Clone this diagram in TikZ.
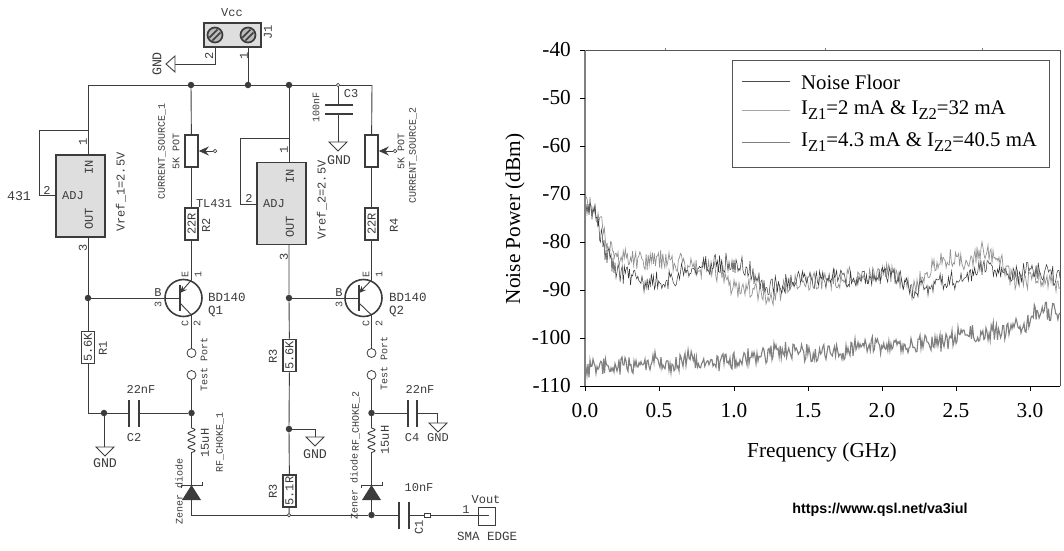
\documentclass[tikz,border=0pt]{standalone}
\usepackage{fontspec}
\usetikzlibrary{arrows.meta,decorations.pathmorphing}
\newfontfamily\schfont{Liberation Mono}
\newfontfamily\plotfont{Liberation Serif}
\newfontfamily\urlfont{Liberation Sans}
\definecolor{wirec}{HTML}{3C3C3C}
\definecolor{icfill}{HTML}{DEDEDE}
\definecolor{framec}{HTML}{555555}
\tikzset{
  wire/.style={draw=wirec, line width=0.9pt},
  platec/.style={draw=wirec, line width=2.6pt},
  dot/.style={circle, fill=wirec, inner sep=0pt, minimum size=6.5pt},
  tiny dot/.style={circle, draw=wirec, fill=white, line width=0.7pt, inner sep=0pt, minimum size=3.5pt},
  port/.style={circle, draw=wirec, fill=white, line width=0.8pt, inner sep=0pt, minimum size=9pt},
  ic/.style={rectangle, draw=wirec, fill=icfill, line width=1.6pt, minimum width=49pt, minimum height=82pt},
  res/.style={rectangle, draw=wirec, fill=white, line width=1.6pt, rotate=90, inner sep=0pt, minimum width=32pt, minimum height=13pt, text=wirec, font=\schfont\fontsize{12}{12}\selectfont},
  labs/.style={text=wirec, inner sep=0pt, font=\schfont\fontsize{10}{10}\selectfont},
  lab/.style={text=wirec, inner sep=0pt, font=\schfont\fontsize{12}{12}\selectfont},
  labl/.style={text=wirec, inner sep=0pt, font=\schfont\fontsize{13.3}{13.3}\selectfont},
  tick/.style={draw=black, line width=0.7pt},
  axnum/.style={inner sep=0pt, font=\plotfont\fontsize{21.3}{21.3}\selectfont},
  legtext/.style={inner sep=0pt, anchor=west, font=\plotfont\fontsize{20.8}{20.8}\selectfont},
  chokec/.style={wire, decorate, decoration={coil, aspect=0, segment length=7pt, amplitude=3.5pt}}
}
\newcommand{\gndsym}[2]{\draw[wire, fill=white] (#1-9,#2) -- (#1+9,#2) -- (#1,#2+9) -- cycle;}
\newcommand{\screw}[2]{
  \draw[draw=wirec, fill=gray!55, line width=1.7pt] (#1,#2) circle (7.5);
  \draw[draw=wirec, line width=1.5pt] (#1-5.5,#2+2.5) -- (#1+2.5,#2-5.5);
  \draw[draw=wirec, line width=1.5pt] (#1-2.5,#2+5.5) -- (#1+5.5,#2-2.5);
}
\newcommand{\IZ}[1]{I\raisebox{-0.28em}{\fontsize{16.5}{16.5}\selectfont Z#1}}
% style, noise amplitude, first x, first y, remaining anchors
\newcommand{\noisetrace}[5]{
  \foreach \xb/\yb [remember=\xb as \xa (initially #3), remember=\yb as \ya (initially #4)] in {#5}{
    \pgfmathtruncatemacro{\nsamp}{(\xb-\xa)/1.1+2}
    \draw[#1] (\xa,\ya) \foreach \k in {1,...,\nsamp}{
      -- ({\xa+\k/\nsamp*(\xb-\xa)},{\ya+\k/\nsamp*(\yb-\ya)+#2*(2*rnd-1)*(\k<\nsamp)}) };
  }
}
\begin{document}
\begin{tikzpicture}[x=1pt, y=-1pt]
  \useasboundingbox (0,0) rectangle (1064,550);

  % schematic: terminal block
  \draw[draw=wirec, fill=icfill, line width=1.6pt] (204,23) rectangle (261,47);
  \screw{215}{35}
  \screw{248}{35}
  \coordinate (jp2) at (215,47);
  \coordinate (jp1) at (248,47);
  \coordinate (jp2c) at (215,64);
  \coordinate (gndj) at (175,64);
  \draw[wire] (jp2) -- (jp2c) -- (gndj);
  \draw[wire, fill=white] (175,56) -- (175,72) -- (166,64) -- cycle;
  \node[lab] (vcclab) at (232,13) {Vcc};
  \node[lab, rotate=90] (j1lab) at (268,32) {J1};
  \node[lab, rotate=90] (jp2lab) at (209,56) {2};
  \node[lab, rotate=90] (jp1lab) at (244,56) {1};
  \node[labl, rotate=90] (gndjlab) at (157,64) {GND};

  % top rail
  \node[dot] (d1) at (191,85) {};
  \node[dot] (d2) at (248,85) {};
  \node[dot] (d3) at (289,85) {};
  \node[tiny dot] (d4) at (338,85) {};
  \coordinate (railw) at (88,85);
  \coordinate (raile) at (372,85);
  \draw[wire] (jp1) -- (d2);
  \draw[wire] (railw) -- (d1) -- (d2) -- (d3) -- (d4) -- (raile);

  % regulator 1
  \node[ic] (ic1) at (80.5,196) {};
  \coordinate (ic1in) at (88,155);
  \coordinate (ic1out) at (88,237);
  \coordinate (ic1adj) at (56,195);
  \coordinate (fb1) at (88,130);
  \coordinate (fb1a) at (39,130);
  \coordinate (fb1b) at (39,195);
  \draw[wire] (railw) -- (ic1in);
  \draw[wire] (fb1) -- (fb1a) -- (fb1b) -- (ic1adj);
  \node[lab, rotate=90] (ic1inl) at (89,167) {IN};
  \node[lab] (ic1adjl) at (73,196) {ADJ};
  \node[lab, rotate=90] (ic1outl) at (89,219) {OUT};
  \node[labl] (ic1pin) at (19,196) {431};
  \node[lab] (ic1p2) at (47,190) {2};
  \node[lab, rotate=90] (ic1p1) at (83,142) {1};
  \node[lab, rotate=90] (ic1p3) at (83,248) {3};
  \node[lab, rotate=90] (vref1) at (121,192) {Vref\_1=2.5V};

  % regulator 2
  \node[ic] (ic2) at (281.5,203.5) {};
  \coordinate (ic2in) at (289,163);
  \coordinate (ic2out) at (289,244);
  \coordinate (ic2adj) at (257,204);
  \coordinate (fb2) at (289,138);
  \coordinate (fb2a) at (240,138);
  \coordinate (fb2b) at (240,204);
  \draw[wire] (d3) -- (ic2in);
  \draw[wire] (fb2) -- (fb2a) -- (fb2b) -- (ic2adj);
  \node[lab, rotate=90] (ic2inl) at (290,176) {IN};
  \node[lab] (ic2adjl) at (274,204) {ADJ};
  \node[lab, rotate=90] (ic2outl) at (290,227) {OUT};
  \node[lab] (ic2p2) at (249,198) {2};
  \node[lab, rotate=90] (ic2p1) at (284,150) {1};
  \node[lab, rotate=90] (ic2p3) at (284,257) {3};
  \node[lab, rotate=90] (vref2) at (322,200) {Vref\_2=2.5V};

  % pots and series resistors
  \node[res] (pot1) at (191.5,151) {};
  \node[res] (pot2) at (371.5,151) {};
  \node[res] (r2) at (191.5,224) {22R};
  \node[res] (r4) at (371.5,224) {22R};
  \node[tiny dot] (wip1) at (215,151) {};
  \node[tiny dot] (wip2) at (395,151) {};
  \draw[wire] (d1) -- (pot1) -- (r2);
  \draw[wire] (raile) -- (pot2) -- (r4);
  \draw[wire, -{Stealth[length=10pt, width=9pt]}] (wip1) -- (pot1.south);
  \draw[wire, -{Stealth[length=10pt, width=9pt]}] (wip2) -- (pot2.south);
  \node[labs, rotate=90] (cs1) at (162,151) {CURRENT\_SOURCE\_1};
  \node[labs, rotate=90] (pv1) at (176,151) {5K POT};
  \node[labs, rotate=90] (cs2) at (413,155) {CURRENT\_SOURCE\_2};
  \node[labs, rotate=90] (pv2) at (401,151) {5K POT};
  \node[lab] (tl431) at (214,204) {TL431};
  \node[lab, rotate=90] (r2lab) at (206,225) {R2};
  \node[lab, rotate=90] (r4lab) at (394,225) {R4};

  % C3
  \coordinate (c3a) at (338,105);
  \coordinate (c3b) at (338,114);
  \coordinate (c3g) at (338,142);
  \draw[wire] (d4) -- (c3a);
  \draw[wire] (c3b) -- (c3g);
  \draw[platec] (325,105) -- (353,105);
  \draw[platec] (325,114) -- (353,114);
  \gndsym{338}{142}
  \node[lab] (c3lab) at (351,94) {C3};
  \node[labs, rotate=90] (c3v) at (316,107) {100nF};
  \node[labl] (c3gnd) at (339,160) {GND};

  % Q1
  \draw[draw=wirec, line width=1.6pt] (183.5,298) circle (18.5);
  \draw[platec] (180,285) -- (180,311);
  \node[dot] (d5) at (88,298) {};
  \coordinate (q1b) at (180,298);
  \coordinate (q1e) at (191.5,280);
  \coordinate (q1ea) at (180,293);
  \coordinate (q1ca) at (180,303);
  \coordinate (q1c) at (191.5,315);
  \draw[wire] (ic1out) -- (d5) -- (q1b);
  \draw[wire] (r2) -- (q1e);
  \draw[wire, -{Stealth[length=7pt, width=6pt]}] (q1e) -- (q1ea);
  \draw[wire] (q1ca) -- (q1c);
  \node[lab] (q1bl) at (158,293) {B};
  \node[labs, rotate=90] (q1b3) at (158,304) {3};
  \node[labs, rotate=90] (q1el) at (185,274) {E};
  \node[labs, rotate=90] (q1e1) at (198,274) {1};
  \node[labs, rotate=90] (q1cl) at (185,323) {C};
  \node[labs, rotate=90] (q1c2) at (197,323) {2};
  \node[lab, anchor=west, font=\schfont\fontsize{12.5}{12.5}\selectfont] (q1type) at (208,297) {BD140};
  \node[lab, anchor=west, font=\schfont\fontsize{12.5}{12.5}\selectfont] (q1name) at (208,311) {Q1};

  % Q2
  \draw[draw=wirec, line width=1.6pt] (363.5,298) circle (18.5);
  \draw[platec] (359,285) -- (359,311);
  \node[dot] (d6) at (289,298) {};
  \coordinate (q2b) at (359,298);
  \coordinate (q2e) at (371.5,280);
  \coordinate (q2ea) at (359,293);
  \coordinate (q2ca) at (359,303);
  \coordinate (q2c) at (371.5,315);
  \draw[wire] (d6) -- (q2b);
  \draw[wire] (r4) -- (q2e);
  \draw[wire, -{Stealth[length=7pt, width=6pt]}] (q2e) -- (q2ea);
  \draw[wire] (q2ca) -- (q2c);
  \node[lab] (q2bl) at (339,293) {B};
  \node[labs, rotate=90] (q2b3) at (339,304) {3};
  \node[labs, rotate=90] (q2el) at (366,274) {E};
  \node[labs, rotate=90] (q2e1) at (379,274) {1};
  \node[labs, rotate=90] (q2cl) at (366,323) {C};
  \node[labs, rotate=90] (q2c2) at (379,323) {2};
  \node[lab, anchor=west, font=\schfont\fontsize{12.5}{12.5}\selectfont] (q2type) at (389,297) {BD140};
  \node[lab, anchor=west, font=\schfont\fontsize{12.5}{12.5}\selectfont] (q2name) at (389,311) {Q2};

  % left branch
  \node[res] (r1) at (88,347.5) {5.6K};
  \node[dot] (d7) at (104,413) {};
  \node[dot] (d8) at (191.5,413) {};
  \node[port] (tp1a) at (191.5,353) {};
  \node[port] (tp1b) at (191.5,375) {};
  \coordinate (c2a) at (129,413);
  \coordinate (c2b) at (139,413);
  \coordinate (c2l) at (88,413);
  \coordinate (g1) at (104,447);
  \draw[wire] (d5) -- (r1) -- (c2l) -- (d7) -- (c2a);
  \draw[wire] (c2b) -- (d8);
  \draw[wire] (d7) -- (g1);
  \gndsym{105}{447}
  \draw[platec] (129,400) -- (129,427);
  \draw[platec] (139,400) -- (139,427);
  \draw[wire] (q1c) -- (tp1a);
  \draw[wire] (tp1b) -- (d8);
  \node[lab, rotate=90] (r1lab) at (103,348) {R1};
  \node[lab] (c2v) at (141,389) {22nF};
  \node[lab] (c2lab) at (134,438) {C2};
  \node[labl] (g1lab) at (105,463) {GND};
  \node[labs, rotate=90] (tp1lab) at (204,364) {Test Port};

  % middle branch
  \node[res] (r3a) at (289.5,355.5) {5.6K};
  \node[res] (r3b) at (289.5,491) {5.1R};
  \node[dot] (d9) at (289,429) {};
  \node[tiny dot] (d10) at (289,515) {};
  \coordinate (g2a) at (315,429);
  \coordinate (g2) at (315,437);
  \draw[wire] (ic2out) -- (d6) -- (r3a) -- (d9) -- (r3b) -- (d10);
  \draw[wire] (d9) -- (g2a) -- (g2);
  \gndsym{315}{437}
  \node[lab, rotate=90] (r3alab) at (273,356) {R3};
  \node[lab, rotate=90] (r3blab) at (273,491) {R3};
  \node[labl] (g2lab) at (315,454) {GND};

  % right branch
  \node[dot] (d11) at (371.5,413) {};
  \node[port] (tp2a) at (371.5,353) {};
  \node[port] (tp2b) at (371.5,375) {};
  \coordinate (c4a) at (408,413);
  \coordinate (c4b) at (417,413);
  \coordinate (g3a) at (437,413);
  \coordinate (g3) at (437,423);
  \draw[wire] (q2c) -- (tp2a);
  \draw[wire] (tp2b) -- (d11) -- (c4a);
  \draw[wire] (c4b) -- (g3a) -- (g3);
  \gndsym{438}{423}
  \draw[platec] (408,400) -- (408,427);
  \draw[platec] (417,400) -- (417,427);
  \node[lab] (c4v) at (420,389) {22nF};
  \node[lab] (c4lab) at (412,438) {C4};
  \node[lab] (g3lab) at (438,438) {GND};
  \node[labs, rotate=90] (tp2lab) at (384,363) {Test Port};

  % chokes
  \coordinate (l1a) at (191.5,428);
  \coordinate (l1b) at (191.5,456);
  \coordinate (l2a) at (371.5,428);
  \coordinate (l2b) at (371.5,456);
  \coordinate (z1k) at (191.5,485);
  \coordinate (z2k) at (371.5,485);
  \draw[wire] (d8) -- (l1a);
  \draw[chokec] (l1a) -- (l1b);
  \draw[wire] (l1b) -- (z1k);
  \draw[wire] (d11) -- (l2a);
  \draw[chokec] (l2a) -- (l2b);
  \draw[wire] (l2b) -- (z2k);
  \node[lab, rotate=90] (l1v) at (205,443) {15uH};
  \node[labs, rotate=90] (l1lab) at (220,442) {RF\_CHOKE\_1};
  \node[lab, rotate=90] (l2v) at (385,440) {15uH};
  \node[labs, rotate=90] (l2lab) at (356,421) {RF\_CHOKE\_2};

  % zener diodes
  \fill[wirec] (191.5,485) -- (201,500) -- (182,500) -- cycle;
  \draw[wire] (181,488) -- (181,485) -- (202,485) -- (202,482);
  \fill[wirec] (371.5,485) -- (381,500) -- (362,500) -- cycle;
  \draw[wire] (361,488) -- (361,485) -- (382,485) -- (382,482);
  \node[dot] (d12) at (371.5,515) {};
  \coordinate (z1a) at (191.5,500);
  \coordinate (z2a) at (371.5,500);
  \coordinate (bus) at (191.5,515);
  \coordinate (c1a) at (399,515);
  \coordinate (c1b) at (409,515);
  \coordinate (smain) at (478,515);
  \draw[wire] (z1a) -- (bus) -- (d10) -- (d12) -- (c1a);
  \draw[wire] (z2a) -- (d12);
  \draw[wire] (c1b) -- (smain);
  \draw[platec] (399,502) -- (399,529);
  \draw[platec] (409,502) -- (409,529);
  \draw[draw=wirec, fill=white, line width=0.6pt] (424,513) rectangle (430,517);
  \node[labs, rotate=90] (z1lab) at (179,491) {Zener diode};
  \node[labs, rotate=90] (z2lab) at (354,486) {Zener diode};
  \node[lab] (c1v) at (419,488) {10nF};
  \node[lab, rotate=90] (c1lab) at (419,527) {C1};

  % sma connector
  \draw[draw=wirec, line width=0.9pt] (478,507) rectangle (495,525);
  \draw[draw=wirec, line width=1.6pt] (478,515.5) -- (489,515.5);
  \node[lab] (smap) at (466,510) {1};
  \node[lab] (voutlab) at (486,500) {Vout};
  \node[lab, font=\schfont\fontsize{12.5}{12.5}\selectfont] (smalab) at (487,536) {SMA EDGE};

  % plot: axes
  \draw[draw=framec, line width=0.7pt] (585,50) -- (1060,50) -- (1060,386);
  \draw[draw=gray, line width=1.6pt] (585,50) -- (585,386);
  \draw[draw=black, line width=0.8pt] (585,386) -- (1060,386);
  \foreach \ylab/\ypos in {-40/50,-50/98,-60/146,-70/194,-80/242,-90/290,-100/338,-110/386}{
    \draw[tick] (580,\ypos) -- (585,\ypos);
    \node[axnum, anchor=east] (yt\ypos) at (571,\ypos) {\ylab};
  }
  \foreach \xlab/\xpos in {0.0/585,0.5/659,1.0/734,1.5/808,2.0/882,2.5/956,3.0/1030}{
    \draw[tick] (\xpos,386) -- (\xpos,391);
    \node[axnum] (xt\xpos) at (\xpos,411) {\xlab};
  }
  \foreach \xpos in {665,825,982}
    \draw[draw=gray, line width=0.5pt] (\xpos,48) -- (\xpos,50);
  \node[axnum, rotate=90] (ylab) at (515,219) {Noise Power (dBm)};
  \node[axnum] (xlab) at (822,452) {Frequency (GHz)};

  % plot: traces
  \pgfmathsetseed{431}
  \begin{scope}
    \clip (585,45) rectangle (1060,386);
    \noisetrace{draw=gray, line width=1.1pt}{9}{585}{372}{600/363,610/372,623/365,643/365,657/358,673/365,687/358,710/362,727/363,743/357,760/357,777/350,810/353,843/353,863/343,893/347,910/347,927/342,943/343,960/335,987/332,1010/330,1027/323,1037/310,1060/313}
    \noisetrace{draw=gray!85, line width=0.7pt}{10}{585}{200}{600/217,607/243,617/257,643/260,670/260,693/267,720/273,733/288,753/288,770/298,793/283,827/280,860/275,893/273,913/290,927/272,943/257,967/262,983/248,997/258,1013/280,1040/278,1060/288}
    \noisetrace{draw=black!80, line width=0.5pt}{10}{585}{203}{597/217,603/247,617/272,643/282,667/280,693/268,727/262,747/268,767/288,793/282,827/278,860/280,893/272,917/293,937/280,960/280,983/265,1010/277,1033/270,1060/278}
    \draw[draw=gray, line width=0.9pt] (585.5,205) -- (585.5,80);
  \end{scope}

  % plot: legend
  \draw[draw=framec, line width=0.9pt, fill=white] (732,60) rectangle (1049,167);
  \coordinate (leg1a) at (742,81);
  \coordinate (leg1b) at (790,81);
  \coordinate (leg2a) at (742,110);
  \coordinate (leg2b) at (790,110);
  \coordinate (leg3a) at (742,142);
  \coordinate (leg3b) at (790,142);
  \draw[draw=black!70, line width=0.6pt] (leg1a) -- (leg1b);
  \draw[draw=gray!70, line width=0.6pt] (leg2a) -- (leg2b);
  \draw[draw=gray, line width=0.7pt] (leg3a) -- (leg3b);
  \node[legtext] (leg1) at (801,82) {Noise Floor};
  \node[legtext] (leg2) at (801,110) {\IZ{1}=2 mA \& \IZ{2}=32 mA};
  \node[legtext] (leg3) at (801,142) {\IZ{1}=4.3 mA \& \IZ{2}=40.5 mA};

  \node[inner sep=0pt, font=\urlfont\bfseries\fontsize{14.3}{14.3}\selectfont] (url) at (880,510) {https://www.qsl.net/va3iul};
\end{tikzpicture}
\end{document}
